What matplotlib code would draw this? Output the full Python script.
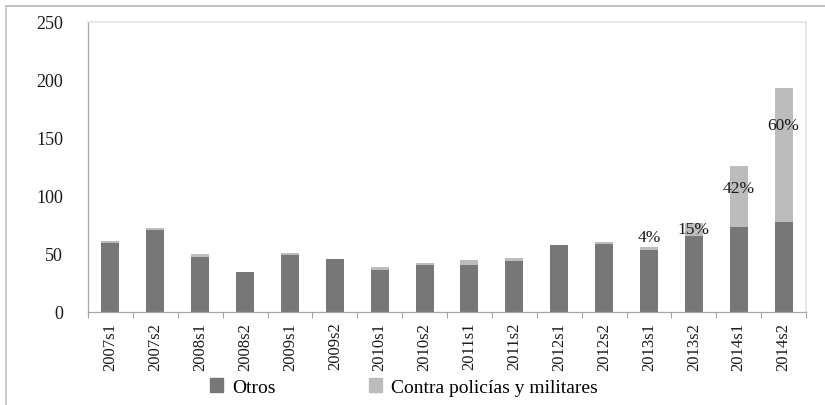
"""Stacked bars: otros vs. contra policias y militares, by semester"""
import matplotlib
matplotlib.use("Agg")
import matplotlib.pyplot as plt
from matplotlib.lines import Line2D
from matplotlib.patches import Patch

plt.rcParams['font.family'] = ['Liberation Serif', 'DejaVu Serif']

periods = ['2007s1', '2007s2', '2008s1', '2008s2', '2009s1', '2009s2',
           '2010s1', '2010s2', '2011s1', '2011s2', '2012s1', '2012s2',
           '2013s1', '2013s2', '2014s1', '2014s2']
otros = [59, 70.5, 47.5, 34, 49, 46, 36.5, 40.5, 40.5, 44, 58, 58.5,
         53.5, 65.5, 73.5, 77.5]
contra = [2.5, 1.5, 2, 0, 2, 0, 2.5, 2, 4.5, 2.5, 0, 2, 2.5, 11.5, 52.5, 115]

# share labels drawn over the last bars: (bar index, text, height of label)
share_idx = [12, 13, 14, 15]
share_txt = ['4%', '15%', '42%', '60%']
share_y = [64.5, 71.5, 107, 160.5]

dark = '#777777'
light = '#bcbcbc'
axis_col = '#a6a6a6'
border_col = '#e3e3e3'

fig = plt.figure(figsize=(8.25, 4.06), dpi=100)
ax = fig.add_axes([88 / 825, 93 / 406, 718 / 825, 290.5 / 406])

x = list(range(len(periods)))
ax.bar(x, otros, width=0.4, color=dark, label='Otros')
ax.bar(x, contra, width=0.4, bottom=otros, color=light,
       label='Contra policías y militares')

for i, t, y in zip(share_idx, share_txt, share_y):
    ax.text(i, y, t, ha='center', va='center', fontsize=12.5, color='#1a1a1a')

ax.set_xlim(-0.5, len(periods) - 0.5)
ax.set_ylim(0, 250)
ax.set_yticks(range(0, 251, 50))
ax.set_xticks(x)
ax.set_xticklabels(periods, rotation=90, fontsize=12, color='#1a1a1a')
ax.tick_params(axis='x', which='major', length=0, pad=7)
ax.set_xticks([i - 0.5 for i in range(len(periods) + 1)], minor=True)
ax.tick_params(axis='x', which='minor', length=4, color=axis_col, width=0.8)
ax.tick_params(axis='y', which='major', length=0, pad=18,
               labelsize=13, labelcolor='#1a1a1a')
ax.set_yticks([0], minor=True)
ax.tick_params(axis='y', which='minor', length=5, color=axis_col, width=0.8)

for s in ['left', 'bottom']:
    ax.spines[s].set_color(axis_col)
    ax.spines[s].set_linewidth(0.9)
for s in ['top', 'right']:
    ax.spines[s].set_color(border_col)
    ax.spines[s].set_linewidth(1.2)

# outer frame of the chart (top and left edges are visible)
fig.add_artist(Line2D([6 / 825, 1], [1 - 6.5 / 406, 1 - 6.5 / 406],
                      color='#b4b4b4', lw=1.2, transform=fig.transFigure))
fig.add_artist(Line2D([6 / 825, 6 / 825], [0, 1 - 6.5 / 406],
                      color='#c4c4c4', lw=1.2, transform=fig.transFigure))

handles = [Patch(color=dark), Patch(color=light)]
fig.legend(handles, ['Otros', 'Contra policías y militares'],
           loc='center', bbox_to_anchor=(404 / 825, 18 / 406), ncol=2,
           frameon=False, fontsize=14, handlelength=0.67, handleheight=0.67,
           handletextpad=0.45, columnspacing=4.8)

fig.savefig('out.png', dpi=100)
